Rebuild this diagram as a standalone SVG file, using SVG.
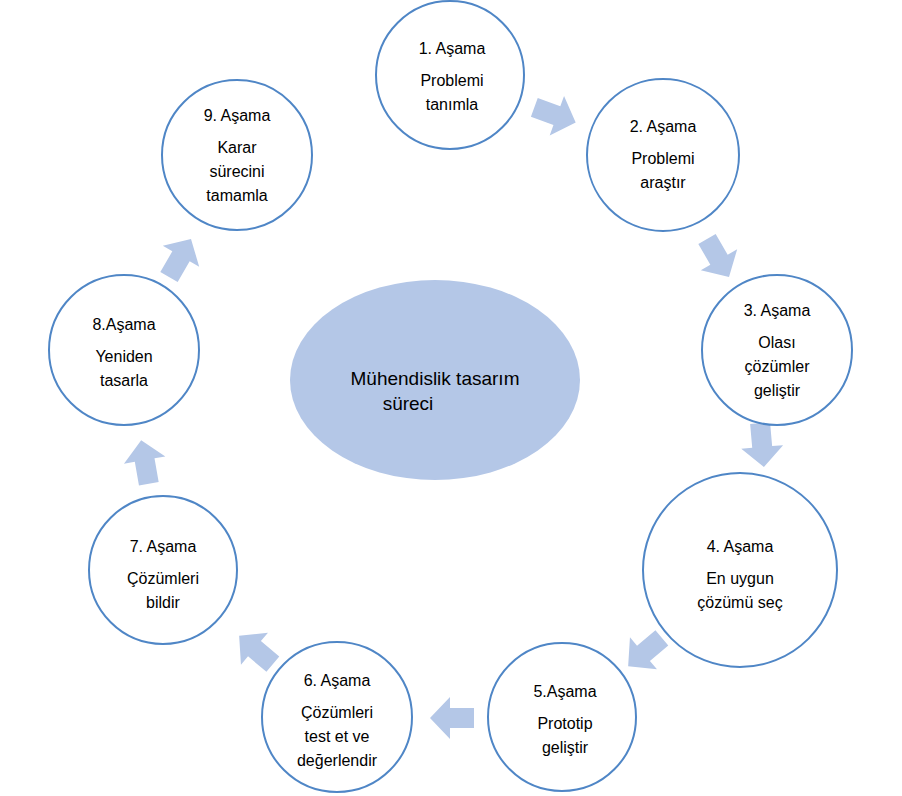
<svg xmlns="http://www.w3.org/2000/svg" width="902" height="796" viewBox="0 0 902 796">
<style>
.c{fill:#fff;stroke:#4f86c6;stroke-width:2}
.t{font-family:"Liberation Sans",Arial,sans-serif;font-size:16px;text-anchor:middle;fill:#000}
.a{fill:#b4c7e7}
</style>
<defs><path id="ar" class="a" d="M-22,-10 L2,-10 L2,-21 L22,0 L2,21 L2,10 L-22,10 Z"/></defs>
<rect width="902" height="796" fill="#fff"/>
<g id="connectors">
<use href="#ar" transform="translate(555,115) rotate(20)"/>
<use href="#ar" transform="translate(718,258) rotate(60)"/>
<use href="#ar" transform="translate(762,445) rotate(85)"/>
<use href="#ar" transform="translate(645,652) rotate(140)"/>
<use href="#ar" transform="translate(452,718) rotate(180)"/>
<use href="#ar" transform="translate(256,650) rotate(220)"/>
<use href="#ar" transform="translate(145,462) rotate(260)"/>
<use href="#ar" transform="translate(180,258) rotate(300)"/>
</g>
<g id="center"><ellipse cx="435" cy="380" rx="145" ry="100" fill="#b4c7e7"/>
<text class="t" x="435" y="385" style="font-size:19px">Mühendislik tasarım</text><text class="t" x="408" y="410" style="font-size:19px">süreci</text></g>
<g id="n1"><circle class="c" cx="450" cy="75" r="74"/><text class="t" x="452" y="54">1. Aşama</text><text class="t" x="452" y="86">Problemi</text><text class="t" x="452" y="110">tanımla</text></g>
<g id="n2"><circle class="c" cx="663" cy="155" r="76"/><text class="t" x="663" y="132">2. Aşama</text><text class="t" x="663" y="164">Problemi</text><text class="t" x="663" y="188">araştır</text></g>
<g id="n3"><circle class="c" cx="777" cy="350" r="75"/><text class="t" x="777" y="316">3. Aşama</text><text class="t" x="777" y="348">Olası</text><text class="t" x="777" y="372">çözümler</text><text class="t" x="777" y="396">geliştir</text></g>
<g id="n4"><circle class="c" cx="740" cy="570" r="97"/><text class="t" x="740" y="552">4. Aşama</text><text class="t" x="740" y="584">En uygun</text><text class="t" x="740" y="608">çözümü seç</text></g>
<g id="n5"><circle class="c" cx="562" cy="717" r="74"/><text class="t" x="565" y="697">5.Aşama</text><text class="t" x="565" y="729">Prototip</text><text class="t" x="565" y="753">geliştir</text></g>
<g id="n6"><circle class="c" cx="337" cy="717" r="75"/><text class="t" x="337" y="686">6. Aşama</text><text class="t" x="337" y="718">Çözümleri</text><text class="t" x="337" y="742">test et ve</text><text class="t" x="337" y="766">değerlendir</text></g>
<g id="n7"><circle class="c" cx="163" cy="570" r="74"/><text class="t" x="163" y="552">7. Aşama</text><text class="t" x="163" y="584">Çözümleri</text><text class="t" x="163" y="608">bildir</text></g>
<g id="n8"><circle class="c" cx="124" cy="350" r="75"/><text class="t" x="124" y="330">8.Aşama</text><text class="t" x="124" y="362">Yeniden</text><text class="t" x="124" y="386">tasarla</text></g>
<g id="n9"><circle class="c" cx="237" cy="155" r="75"/><text class="t" x="237" y="121">9. Aşama</text><text class="t" x="237" y="153">Karar</text><text class="t" x="237" y="177">sürecini</text><text class="t" x="237" y="201">tamamla</text></g>
</svg>
